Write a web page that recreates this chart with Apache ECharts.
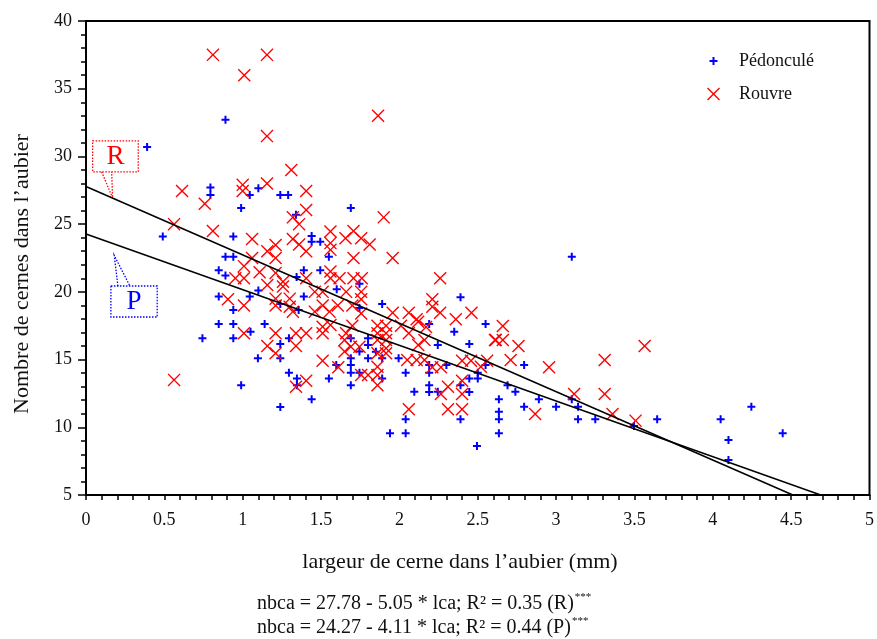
<!DOCTYPE html>
<html><head><meta charset="utf-8">
<script src="https://cdn.jsdelivr.net/npm/echarts@6/dist/echarts.min.js"></script>
<style>html,body{margin:0;padding:0;background:#fff}#c{width:877px;height:639px}</style>
</head><body><div id="c"></div>
<script>
// Pédonculé (blue +)
const pedX = [0.39,0.89,0.794,0.794,1.10,1.045,1.24,1.29,0.99,1.34,0.49,0.94,0.89,0.94,0.847,0.89,1.10,1.344,0.847,1.045,0.94,1.24,0.847,0.94,1.14,1.05,0.743,0.94,1.295,1.24,1.097,1.24,1.295,1.346,1.346,0.99,1.24,1.69,1.44,1.44,1.495,1.55,1.39,1.495,1.745,1.60,1.39,1.357,1.745,1.89,2.39,2.55,2.19,2.35,1.69,1.80,1.745,1.80,1.85,1.89,1.80,1.69,1.597,1.69,1.69,1.745,1.89,1.69,1.55,1.44,1.995,2.04,2.19,2.19,2.19,2.19,2.30,2.245,2.095,2.245,2.04,2.04,1.94,2.39,2.495,2.39,2.446,2.446,2.50,2.50,2.446,2.55,2.635,2.635,2.635,2.635,2.69,2.74,2.796,2.796,2.89,3.0,3.10,3.14,3.14,3.25,3.497,3.645,3.10,4.246,4.05,4.446,4.10,4.10];
const pedY = [30.7,32.7,27.7,27.15,27.65,27.15,27.15,27.15,26.2,25.7,24.08,24.08,22.6,22.6,21.6,21.2,20.1,21.1,19.65,19.65,18.66,19.1,17.63,17.63,17.63,17.06,16.57,16.57,16.57,16.15,15.1,15.1,14.03,13.6,13.1,13.1,11.5,26.2,24.13,23.7,23.7,22.6,21.6,21.6,20.6,20.2,19.65,18.66,18.8,19.1,19.6,17.63,17.63,17.06,16.57,16.57,15.6,16.08,15.58,15.1,15.1,15.1,14.6,14.6,14.03,14.03,13.6,13.1,13.6,12.07,15.1,14.03,14.6,14.03,13.1,12.6,14.6,16.08,12.63,12.63,10.6,9.56,9.56,10.6,8.62,13.1,13.6,12.6,13.6,14.03,16.15,14.6,12.07,11.15,10.6,9.56,13.1,12.63,14.6,11.52,12.07,11.52,12.07,11.52,10.6,10.6,10.1,10.6,22.6,11.52,10.6,9.56,9.06,7.58];
// Rouvre (red x)
const rouX = [0.81,1.155,1.01,1.155,1.31,1.864,0.613,1.0,1.0,1.155,0.758,1.32,0.562,0.81,1.06,1.32,1.21,1.157,1.06,1.21,1.008,1.108,1.21,0.953,1.008,1.157,1.257,1.257,0.906,1.21,1.30,1.008,1.21,1.30,1.32,1.008,1.21,1.34,1.157,1.34,1.21,0.562,1.34,1.405,1.405,1.36,1.90,1.56,1.707,1.656,1.756,1.81,1.36,1.56,1.405,1.56,1.707,1.957,1.56,1.405,1.56,1.618,1.707,1.76,1.46,1.51,1.66,1.756,1.756,1.51,1.607,1.70,1.46,1.554,1.756,1.957,2.06,2.11,2.21,2.21,2.26,2.26,2.36,2.46,1.405,1.51,1.51,1.56,1.70,1.66,1.86,1.915,1.86,1.915,2.01,2.12,2.17,2.61,1.65,1.65,1.69,1.745,1.86,1.915,1.915,1.86,1.915,1.51,1.61,1.756,1.80,1.86,1.86,1.86,1.405,2.05,2.11,2.16,2.21,2.265,2.12,2.16,2.06,2.265,2.31,2.06,2.31,2.40,2.40,2.40,2.40,2.457,2.52,2.56,2.66,2.615,2.66,2.76,2.71,2.955,3.31,3.565,2.866,3.115,3.31,3.36,3.507];
const rouY = [37.5,37.5,36.0,31.5,29.0,33.0,27.45,27.9,27.45,28.0,26.5,25.5,25.0,24.5,23.9,23.9,23.46,23.0,22.5,22.5,21.9,21.45,21.4,21.0,21.0,20.5,20.75,20.4,19.45,19.5,19.5,19.0,19.0,18.9,18.54,16.94,16.94,16.94,16.0,16.0,15.47,13.5,13.0,27.45,26.05,25.0,25.5,24.45,24.5,23.96,23.96,23.5,23.5,23.6,23.0,23.1,22.5,22.5,21.5,21.0,21.0,21.0,21.0,21.0,20.0,20.0,20.0,20.0,19.45,19.0,19.0,19.0,18.54,18.54,18.4,18.46,18.46,17.97,19.45,18.9,21.0,18.46,17.97,18.46,16.94,17.43,16.94,17.56,17.5,16.94,17.5,17.5,16.94,16.94,17.5,17.8,17.4,16.45,16.45,15.6,15.95,15.95,16.45,16.45,15.83,15.47,15.47,14.92,14.43,13.86,13.86,14.47,13.86,13.1,13.44,14.97,14.97,14.97,14.43,14.43,16.08,16.45,16.94,12.46,13.0,11.33,11.33,11.33,13.44,12.46,14.92,14.92,14.47,14.92,17.48,16.45,16.45,16.0,14.97,14.43,14.97,16.0,10.98,12.46,12.46,10.98,10.49];
// regression lines
const regNames = ['R','P'];
const regIntercept = [27.78, 24.27];
const regSlope = [5.05, 4.11];
const regR2 = [0.35, 0.44];
const seriesNames = ['Pédonculé','Rouvre'];
const seriesColors = ['#0000ff','#ff0000'];

const FONT = '"Liberation Serif","DejaVu Serif",serif';
const plusPath = 'path://M3,0H5V3H8V5H5V8H3V5H0V3H3Z';
const plusLegend = 'path://M0,0M13,13M5.5,2.5H7.5V5.5H10.5V7.5H7.5V10.5H5.5V7.5H2.5V5.5H5.5Z';
const crossPath = 'path://M0,1.5L1.5,0L10,8.5L18.5,0L20,1.5L11.5,10L20,18.5L18.5,20L10,11.5L1.5,20L0,18.5L8.5,10Z';

const zip = (a,b)=>a.map((v,i)=>[v,b[i]]);
const yMin = 5;

const chart = echarts.init(document.getElementById('c'));
const series = [
  {name: seriesNames[0], type:'scatter', data: zip(pedX,pedY), symbol: plusPath, symbolSize: 8,
   itemStyle:{color: seriesColors[0], opacity:1}, z:2},
  {name: seriesNames[1], type:'scatter', data: zip(rouX,rouY), symbol: crossPath, symbolSize: 13,
   itemStyle:{color: seriesColors[1], opacity:1}, z:3}
];
regNames.forEach((n,i)=>{
  series.push({name:'reg'+n, type:'line', symbol:'none', silent:true, z:4,
    data:[[0, regIntercept[i]], [(regIntercept[i]-yMin)/regSlope[i], yMin]],
    lineStyle:{color:'#000', width:1.5}});
});

chart.setOption({
  animation:false,
  backgroundColor:'#fff',
  grid:{left:86, right:5, top:21, bottom:144, show:true, borderColor:'#000', borderWidth:2, backgroundColor:'transparent'},
  xAxis:{type:'value', min:0, max:5, interval:0.5,
    axisLine:{show:true, onZero:false, lineStyle:{color:'#000', width:2}},
    axisTick:{show:true, inside:false, length:5, lineStyle:{color:'#000', width:1.5}},
    minorTick:{show:true, splitNumber:5, length:5, lineStyle:{color:'#000', width:1.5}},
    splitLine:{show:false},
    axisLabel:{color:'#111', fontFamily:FONT, fontSize:18, margin:16}},
  yAxis:{type:'value', min:5, max:40, interval:5,
    axisLine:{show:true, onZero:false, lineStyle:{color:'#000', width:2}},
    axisTick:{show:true, inside:false, length:8, lineStyle:{color:'#000', width:1.5}},
    minorTick:{show:true, splitNumber:5, length:5, lineStyle:{color:'#000', width:1.5}},
    splitLine:{show:false},
    axisLabel:{color:'#111', fontFamily:FONT, fontSize:18, margin:14}},
  legend:{orient:'vertical', left:702, top:47, itemWidth:13, itemHeight:13, itemGap:15,
    data:[{name:seriesNames[0], icon:plusLegend},{name:seriesNames[1], icon:crossPath}],
    textStyle:{fontFamily:FONT, fontSize:18, color:'#111', padding:[0,0,0,14]}},
  series: series
});

// annotations
const eqRich = {base:{fontFamily:FONT, fontSize:20, color:'#111'}, sup:{fontFamily:FONT, fontSize:11, color:'#111', verticalAlign:'top', padding:[0,0,12,1]}};
const eqText = regNames.map((n,i)=>'{base|nbca = '+regIntercept[i].toFixed(2)+' - '+regSlope[i].toFixed(2)+' * lca; R² = '+regR2[i].toFixed(2)+' ('+n+')}{sup|***}');

const tipR = chart.convertToPixel({gridIndex:0}, [0.17, regIntercept[0]-regSlope[0]*0.17]);
const tipP = chart.convertToPixel({gridIndex:0}, [0.18, 22.7]);
const dotted = (c)=>({stroke:c, fill:'none', lineWidth:1.3, lineDash:[1.5,1.5]});

const graphics = [
  {type:'text', x:22, y:274, rotation:Math.PI/2,
   style:{text:'Nombre de cernes dans l’aubier', fontFamily:FONT, fontSize:22, fill:'#111', textAlign:'center', textVerticalAlign:'middle', align:'center', verticalAlign:'middle'}},
  {type:'text', x:460, y:562,
   style:{text:'largeur de cerne dans l’aubier (mm)', fontFamily:FONT, fontSize:22, fill:'#111', textAlign:'center', textVerticalAlign:'middle', align:'center', verticalAlign:'middle'}},
  {type:'text', x:257, y:592, style:{text:eqText[0], rich:eqRich, fontFamily:FONT, fontSize:20, fill:'#111'}},
  {type:'text', x:257, y:616, style:{text:eqText[1], rich:eqRich, fontFamily:FONT, fontSize:20, fill:'#111'}},
  // R callout
  {type:'rect', shape:{x:tipR[0]-20, y:tipR[1]-57.3, width:45.6, height:31}, style:dotted('#ff0000')},
  {type:'polyline', shape:{points:[[tipR[0]-11, tipR[1]-26.3],[tipR[0], tipR[1]],[tipR[0]-1, tipR[1]-26.3]]}, style:dotted('#ff0000')},
  {type:'text', x:tipR[0]+2.8, y:tipR[1]-41.5, style:{text:'R', fontFamily:FONT, fontSize:27, fill:'#ff0000', textAlign:'center', textVerticalAlign:'middle', align:'center', verticalAlign:'middle'}},
  // P callout
  {type:'rect', shape:{x:tipP[0]-3.3, y:tipP[1]+30.7, width:46.3, height:31}, style:dotted('#0000ff')},
  {type:'polyline', shape:{points:[[tipP[0]+3.7, tipP[1]+30.7],[tipP[0], tipP[1]],[tipP[0]+15.7, tipP[1]+30.7]]}, style:dotted('#0000ff')},
  {type:'text', x:tipP[0]+19.8, y:tipP[1]+46.5, style:{text:'P', fontFamily:FONT, fontSize:27, fill:'#0000ff', textAlign:'center', textVerticalAlign:'middle', align:'center', verticalAlign:'middle'}}
];
chart.setOption({graphic: graphics});
</script>
</body></html>
